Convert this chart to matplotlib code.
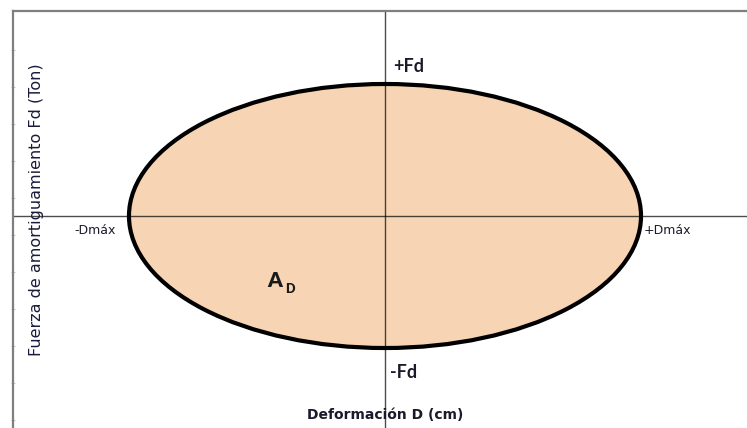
import matplotlib.pyplot as plt
import numpy as np
from matplotlib.patches import Ellipse

plt.rcParams['font.family'] = ['Lato', 'DejaVu Sans']

# hysteresis loop (normalised)
d_max = 1.0
f_d = 1.0

# labels: (text, x, y, size, weight, family)
labels = [
    ('+Fd', 0.03, 1.09, 13, 'bold', 'Lato'),
    ('-Fd', 0.02, -1.23, 13, 'bold', 'Lato'),
    ('-Dmáx', -1.215, -0.11, 9, 'normal', 'DejaVu Sans'),
    ('+Dmáx', 1.012, -0.11, 9, 'normal', 'DejaVu Sans'),
]
x_title = 'Deformación D (cm)'
y_title = 'Fuerza de amortiguamiento Fd (Ton)'

fig = plt.figure(figsize=(7.47, 4.28), dpi=100)
ax = fig.add_axes([13 / 747, 0, 734 / 747, 417 / 428])
ax.set_xlim(-1.453, 1.414)
ax.set_ylim(-1.606, 1.553)

# filled loop
ax.add_patch(Ellipse((0, 0), 2 * d_max, 2 * f_d, facecolor='#f7d5b4',
                     edgecolor='none', zorder=1))
# axes through origin
ax.axhline(0, color='black', alpha=0.7, lw=1.0, zorder=2)
ax.axvline(0, color='black', alpha=0.7, lw=1.0, zorder=2)
ax.add_patch(Ellipse((0, 0), 2 * d_max, 2 * f_d, facecolor='none',
                     edgecolor='black', lw=3.0, zorder=3))

for txt, x, y, size, weight, fam in labels:
    ax.text(x, y, txt, fontsize=size, fontweight=weight, family=fam,
            color='#1a1a2a', ha='left',
            va='baseline' if size > 10 else 'center', zorder=4)

# area label A_D
ax.text(-0.46, -0.54, 'A', fontsize=15, fontweight='heavy', color='#1a1a1a',
        ha='left', va='baseline', zorder=4)
ax.text(-0.39, -0.585, 'D', fontsize=9, fontweight='heavy', color='#1a1a1a',
        ha='left', va='baseline', zorder=4)

ax.text(0, -1.51, x_title, fontsize=10, fontweight='bold', family='DejaVu Sans',
        color='#1a1a2a', ha='center', va='center', zorder=4)
ax.text(-1.36, 0.045, y_title, fontsize=11.5, rotation=90, family='DejaVu Sans',
        color='#1a1a3a', ha='center', va='center', zorder=4)

# frame like the spreadsheet chart
for side in ['right', 'bottom']:
    ax.spines[side].set_visible(False)
for side in ['left', 'top']:
    ax.spines[side].set_color('#7f7f7f')
    ax.spines[side].set_linewidth(1.6)
ax.set_yticks(np.arange(-1.55, 1.5, 0.28) + 0.006)
ax.set_xticks([])
ax.tick_params(axis='y', length=3, color='#c8c8c8', labelleft=False,
               direction='inout')

fig.savefig('out.png', dpi=100)
